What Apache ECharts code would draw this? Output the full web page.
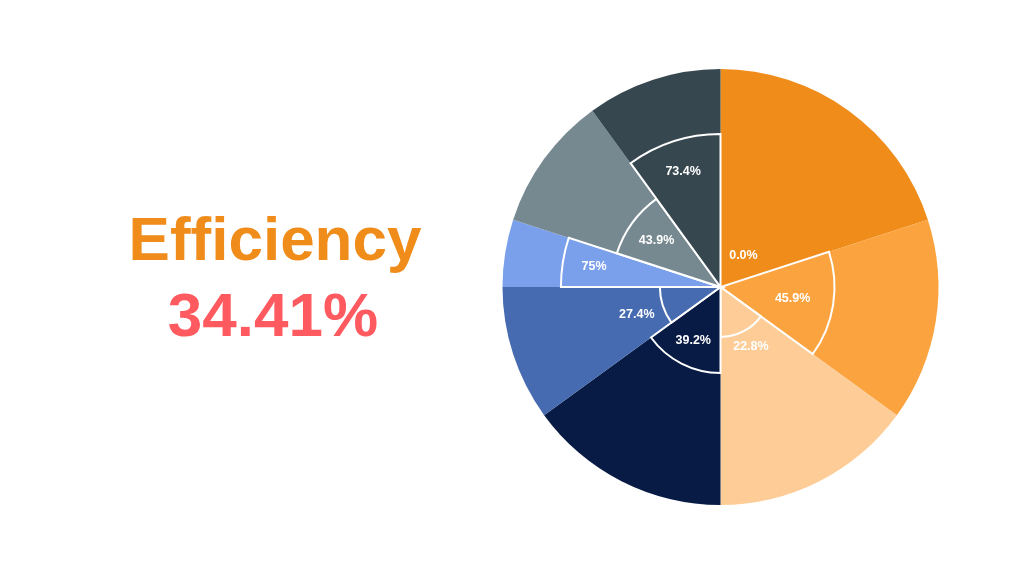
<!DOCTYPE html>
<html>
<head>
<meta charset="utf-8">
<script src="https://cdn.jsdelivr.net/npm/echarts@6/dist/echarts.min.js"></script>
<style>
html,body{margin:0;padding:0;background:#ffffff;}
#chart{width:1024px;height:576px;}
</style>
</head>
<body>
<div id="chart"></div>
<script>
// ---------- data ----------
const categories = ['Cat 1','Cat 2','Cat 3','Cat 4','Cat 5','Cat 6','Cat 7','Cat 8'];
const timeShare = [20, 15, 15, 15, 10, 5, 10, 10];              // outer pie weights (%)
const efficiency = [0.0, 45.9, 22.8, 39.2, 27.4, 75, 43.9, 73.4]; // label values (%)
const sectorRadius = [0, 52.3, 22.9, 39.4, 27.8, 73.2, 50, 70.2]; // inner sector radius (% of outer radius)
const overallLabel = 'Efficiency';
const overallValue = '34.41%';

// ---------- styling / layout ----------
const colors = ['#F08C1A','#FBA43F','#FECD97','#081B45','#466BB0','#7BA0EB','#778990','#37474F'];
const labelDistPx = [39, 73, 67, 60, 88, 128, 79, 121];
const CX = 720.5, CY = 287, R = 218;
const FONT = '"Liberation Sans", Arial, Helvetica, sans-serif';

// cumulative angle ranges
const customData = [];
let acc = 0;
for (let i = 0; i < timeShare.length; i++) {
  customData.push([acc, acc + timeShare[i], sectorRadius[i], i]);
  acc += timeShare[i];
}
const total = acc;

const chart = echarts.init(document.getElementById('chart'), null, {renderer: 'canvas'});
chart.setOption({
  backgroundColor: '#ffffff',
  animation: false,
  polar: {center: [CX, CY], radius: R},
  angleAxis: {type: 'value', min: 0, max: total, startAngle: 90, clockwise: true, show: false},
  radiusAxis: {type: 'value', min: 0, max: 100, show: false},
  graphic: [
    {type: 'text', x: 275, y: 243, style: {text: overallLabel, fill: '#F08C1A', font: 'bold 62px ' + FONT, align: 'center', verticalAlign: 'middle'}},
    {type: 'text', x: 273, y: 319, style: {text: overallValue, fill: '#FF5A5F', font: 'bold 62px ' + FONT, align: 'center', verticalAlign: 'middle'}}
  ],
  series: [
    {
      type: 'pie',
      center: [CX, CY],
      radius: R,
      startAngle: 90,
      clockwise: true,
      silent: true,
      label: {show: false},
      labelLine: {show: false},
      itemStyle: {borderWidth: 0},
      data: categories.map((c, i) => ({name: c, value: timeShare[i], itemStyle: {color: colors[i]}}))
    },
    {
      type: 'custom',
      coordinateSystem: 'polar',
      silent: true,
      z: 5,
      data: customData,
      renderItem: function (params, api) {
        const i = api.value(3);
        const a0 = api.value(0), a1 = api.value(1), rv = api.value(2);
        const cs = params.coordSys;
        const cx = cs.cx, cy = cs.cy;
        const pr = api.coord([rv, a0]);
        const r = Math.hypot(pr[0] - cx, pr[1] - cy);
        const p0 = api.coord([100, a0]);
        const p1 = api.coord([100, a1]);
        const pm = api.coord([100, (a0 + a1) / 2]);
        let ang0 = Math.atan2(p0[1] - cy, p0[0] - cx);
        let ang1 = Math.atan2(p1[1] - cy, p1[0] - cx);
        if (ang1 <= ang0) ang1 += Math.PI * 2;
        const angM = Math.atan2(pm[1] - cy, pm[0] - cx);
        const children = [];
        if (r > 0.5) {
          children.push({
            type: 'sector',
            shape: {cx: cx, cy: cy, r0: 0, r: r, startAngle: ang0, endAngle: ang1, clockwise: true},
            style: {fill: colors[i], stroke: '#ffffff', lineWidth: 2, lineJoin: 'miter'}
          });
        }
        const d = labelDistPx[i];
        children.push({
          type: 'text',
          z2: 10,
          style: {
            text: efficiency[i].toFixed(efficiency[i] === 75 ? 0 : 1) + '%',
            x: cx + d * Math.cos(angM),
            y: cy + d * Math.sin(angM),
            fill: '#ffffff',
            font: 'bold 12.5px ' + FONT,
            align: 'center',
            verticalAlign: 'middle'
          }
        });
        return {type: 'group', children: children};
      }
    }
  ]
});
</script>
</body>
</html>
